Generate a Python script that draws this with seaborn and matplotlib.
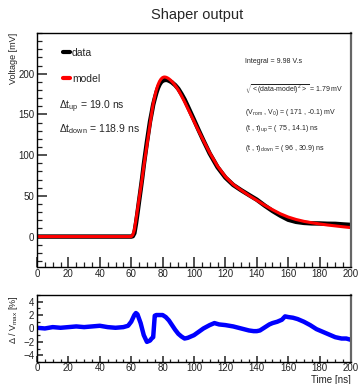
import matplotlib
matplotlib.use("Agg")
import matplotlib.pyplot as plt
from matplotlib.ticker import MultipleLocator
from matplotlib.lines import Line2D
import seaborn as sns

# --- values ---
time_ns = [0, 10, 20, 30, 40, 50, 58, 60, 61, 62, 63, 64, 65, 66, 67, 68, 69, 70,
           71, 72, 73, 74, 75, 76, 77, 78, 79, 80, 81, 82, 83, 84, 85, 86, 87, 88, 89,
           90, 92, 94, 96, 98, 100, 103, 106, 110, 115, 120, 125, 130, 135, 140,
           145, 150, 155, 160, 165, 170, 175, 180, 185, 190, 195, 200]
model_mv = [0, 0, 0, 0, 0, 0, 0, 0, 2, 8, 20, 33, 46, 59, 72, 86, 99, 112,
            125, 138, 151, 163, 172, 180, 186, 190.5, 193.5, 195.3, 196, 195.8, 195, 193.8, 192.2, 190.3, 188.1, 185.6, 182.9,
            180, 173, 165.5, 157.5, 149.5, 141.5, 129.5, 118, 103, 86.5, 73.5, 64, 57, 50.5, 44.5,
            38.5, 33, 28, 24, 21, 18.7, 17, 15.5, 14.2, 13.1, 12, 11]
data_mv = [0, 0, 0, 0, 0, 0, 0, 0, 0.5, 4.1, 15.6, 29, 43.5, 57.5, 72, 87.9, 101.9, 115.9,
           128.7, 141.5, 151.5, 162, 169.5, 176.5, 182.3, 186.6, 189.6, 191.4, 192.1, 192.5, 192.3, 191.5, 190.5, 189.3, 187.6, 186, 183.8,
           181.5, 175.3, 168.4, 160.2, 151.8, 143.4, 130.5, 118, 102, 85.2, 72.5, 63.4, 57, 51.1, 45.3,
           38.1, 31.5, 25.7, 20.7, 18.1, 16.8, 16.2, 16.1, 15.7, 15.6, 14.9, 14.3]

res_t = [0, 5, 10, 15, 20, 25, 30, 35, 40, 45, 50, 55, 58, 60, 62, 63, 64, 66, 68, 70,
         72, 73, 74, 75, 76, 78, 80, 82, 84, 86, 88, 90, 92, 94, 96, 98, 100, 103, 106,
         110, 113, 116, 120, 125, 130, 135, 138, 140, 142, 144, 146, 148, 150, 153, 156,
         158, 160, 163, 166, 170, 174, 178, 182, 186, 190, 194, 197, 200]
res_pct = [0.1, 0.0, 0.2, 0.1, 0.2, 0.3, 0.2, 0.3, 0.4, 0.2, 0.1, 0.2, 0.4, 1.0, 2.0, 2.3, 2.1, 0.8, -1.0, -2.0,
           -1.8, -1.5, -1.3, 1.9, 2.0, 2.0, 2.0, 1.7, 1.2, 0.5, -0.2, -0.8, -1.2, -1.5, -1.4, -1.2, -1.0, -0.5, 0.0,
           0.5, 0.8, 0.6, 0.5, 0.3, 0.0, -0.3, -0.4, -0.4, -0.3, 0.0, 0.3, 0.6, 0.8, 1.0, 1.3,
           1.8, 1.7, 1.6, 1.4, 1.0, 0.5, -0.1, -0.5, -0.9, -1.3, -1.5, -1.5, -1.7]

x_ticks = list(range(0, 201, 20))
fit_info = ["Integral = 9.98 V.s",
            r"$\sqrt{\mathrm{<(data\text{-}model)^{2}>}}$ = 1.79 mV",
            r"(V$_{\mathrm{nom}}$ , V$_{0}$) = ( 171 , -0.1) mV",
            r"(t , $\tau$)$_{\mathrm{up}}$ = ( 75 , 14.1) ns",
            r"(t , $\tau$)$_{\mathrm{down}}$ = ( 96 , 30.9) ns"]
info_y = [0.876, 0.756, 0.662, 0.589, 0.505]

sns.set_style("ticks")
plt.rcParams['font.family'] = ['Liberation Sans', 'DejaVu Sans']
plt.rcParams['mathtext.fontset'] = 'custom'
plt.rcParams['mathtext.rm'] = 'Liberation Sans'
plt.rcParams['mathtext.it'] = 'Liberation Sans'

fig = plt.figure(figsize=(3.58, 3.84), dpi=100)
ax = fig.add_axes([0.1034, 0.3055, 0.877, 0.6085])
ax2 = fig.add_axes([0.1034, 0.0573, 0.877, 0.1747])

sns.lineplot(x=time_ns, y=data_mv, ax=ax, color="black", lw=3.2)
sns.lineplot(x=time_ns, y=model_mv, ax=ax, color="red", lw=2.2)
sns.lineplot(x=res_t, y=res_pct, ax=ax2, color="blue", lw=3.2)

ax.set_xlim(0, 200)
ax.set_ylim(-37, 250)
ax2.set_xlim(0, 200)
ax2.set_ylim(-5, 5)
ax.set_yticks([0, 50, 100, 150, 200])
ax2.set_yticks([-4, -2, 0, 2, 4])

for a in (ax, ax2):
    a.set_xticks(x_ticks)
    a.xaxis.set_minor_locator(MultipleLocator(5))
    for s in ["left", "bottom", "top"]:
        a.spines[s].set_color("black")
        a.spines[s].set_linewidth(1.0)
    a.spines["right"].set_color("#666666")
    a.spines["right"].set_linewidth(1.6)
    a.set_xlabel("")
    a.set_ylabel("")

ax.yaxis.set_minor_locator(MultipleLocator(10))
ax2.yaxis.set_minor_locator(MultipleLocator(1))

for a, big, small in ((ax, 7, 3.5), (ax2, 4, 2)):
    a.tick_params(which="both", direction="in", labelsize=7, pad=2, colors="#222222",
                  top=False, right=False, labeltop=False, labelright=False)
    a.tick_params(which="major", length=big, width=1.1)
    a.tick_params(which="minor", length=small, width=0.9)
ax2.tick_params(axis="x", pad=0.5)

handles = [Line2D([], [], color="black", lw=3), Line2D([], [], color="red", lw=3)]
ax.legend(handles, ["data", "model"], loc="upper left", bbox_to_anchor=(0.068, 0.955),
          frameon=False, fontsize=7.5, handlelength=0.75, handletextpad=0.15,
          labelspacing=1.55, borderaxespad=0)

ax.text(0.07, 0.683, r"$\Delta$t$_{\mathrm{up}}$ = 19.0 ns", transform=ax.transAxes,
        fontsize=7.5, va="center", ha="left")
ax.text(0.07, 0.59, r"$\Delta$t$_{\mathrm{down}}$ = 118.9 ns", transform=ax.transAxes,
        fontsize=7.5, va="center", ha="left")

for txt, yy in zip(fit_info, info_y):
    ax.text(0.662, yy, txt, transform=ax.transAxes, fontsize=5.0, va="center",
            ha="left", color="#222222")

fig.text(0.55, 0.961, "Shaper output", ha="center", va="center", fontsize=10.5)
fig.text(0.039, 0.914, "Voltage [mV]", rotation=90, ha="center", va="top", fontsize=6.5,
         color="#222222")
fig.text(0.039, 0.232, r"$\Delta$ / V$_{\mathrm{max}}$ [%]", rotation=90, ha="center",
         va="top", fontsize=6.5, color="#222222")
fig.text(0.98, 0.011, "Time [ns]", ha="right", va="center", fontsize=7, color="#222222")

fig.savefig("out.png", dpi=100)
